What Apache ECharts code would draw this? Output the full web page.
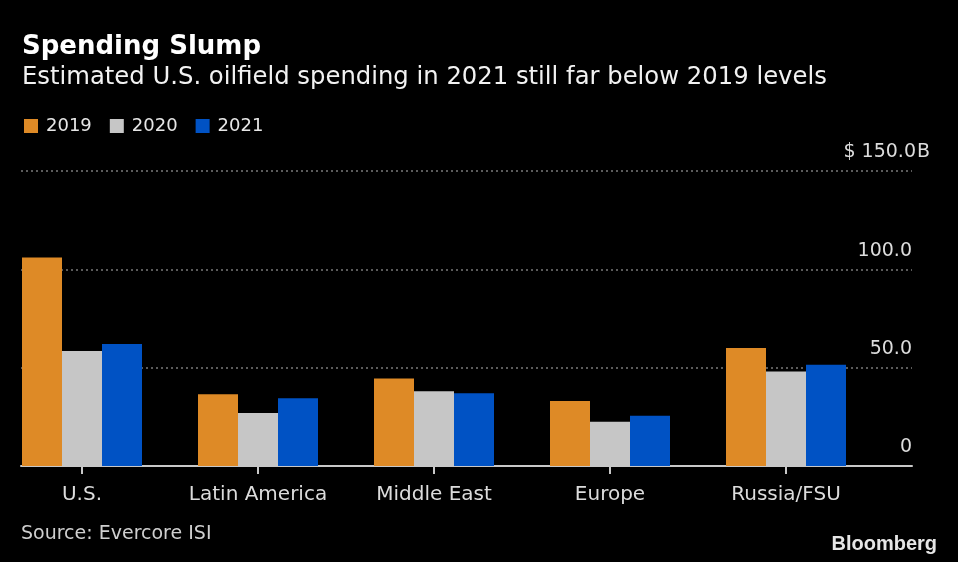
<!DOCTYPE html>
<html>
<head>
<meta charset="utf-8">
<script src="https://cdn.jsdelivr.net/npm/echarts@6/dist/echarts.min.js"></script>
<style>
html,body{margin:0;padding:0;background:#000;}
#c{width:958px;height:562px;}
</style>
</head>
<body>
<div id="c"></div>
<script>
const categories = ['U.S.', 'Latin America', 'Middle East', 'Europe', 'Russia/FSU'];
const seriesNames = ['2019', '2020', '2021'];
const values2019 = [106, 36.5, 44.5, 33, 60];
const values2020 = [58.5, 27, 38, 22.5, 48];
const values2021 = [62, 34.5, 37, 25.5, 51.5];
const yTicks = [0, 50, 100, 150];
const colors = ['#DE8A26', '#C6C6C6', '#0052C4'];

const FONT = 'DejaVu Sans';
const chart = echarts.init(document.getElementById('c'), null, {renderer: 'canvas'});

function yLabel(v) {
  if (v === 150) return '$ 150.0{b|B}';
  if (v === 0) return '0{h|B}';
  return v.toFixed(1) + '{h|B}';
}

const option = {
  backgroundColor: '#000',
  animation: false,
  textStyle: {fontFamily: FONT},
  title: [
    {text: 'Spending Slump', left: 17, top: 29,
     textStyle: {color: '#fff', fontSize: 26, fontWeight: 'bold', fontFamily: FONT}},
    {text: 'Estimated U.S. oilfield spending in 2021 still far below 2019 levels', left: 17, top: 61,
     textStyle: {color: '#f2f2f2', fontSize: 24.3, fontWeight: 'normal', fontFamily: FONT}},
    {text: 'Source: Evercore ISI', left: 16, top: 520,
     textStyle: {color: '#cfcfcf', fontSize: 19, fontWeight: 'normal', fontFamily: FONT}},
    {text: 'Bloomberg', right: 16, top: 529,
     textStyle: {color: '#e6e6e6', fontSize: 20, fontWeight: 'bold', fontFamily: 'Liberation Sans Narrow, Liberation Sans'}}
  ],
  legend: {
    left: 19, top: 112,
    icon: 'rect', itemWidth: 14, itemHeight: 14, itemGap: 18,
    textStyle: {color: '#e6e6e6', fontSize: 18, fontFamily: FONT, padding: [0, 0, 0, 3]},
    data: seriesNames
  },
  grid: [
    {left: 21, right: 46, top: 171, bottom: 96, outerBoundsMode: 'none'},
    {left: -6, right: 84, top: 171, bottom: 96, outerBoundsMode: 'none'}
  ],
  xAxis: [
    {type: 'value', gridIndex: 0, min: 0, max: 1,
     axisLine: {show: true, lineStyle: {color: '#c8c8c8', width: 2}},
     axisTick: {show: false}, axisLabel: {show: false}, splitLine: {show: false}},
    {type: 'category', gridIndex: 1, data: categories,
     axisLine: {show: false},
     axisTick: {show: true, alignWithLabel: true, interval: 0, length: 8, lineStyle: {color: '#c8c8c8', width: 2}},
     axisLabel: {color: '#dcdcdc', fontSize: 20, margin: 19, interval: 0, hideOverlap: false, fontFamily: FONT}}
  ],
  yAxis: [
    {type: 'value', gridIndex: 0, position: 'right', min: 0, max: 150, interval: 50,
     axisLine: {show: false}, axisTick: {show: false},
     splitLine: {show: true, lineStyle: {color: '#7a7a7a', type: [2, 3], width: 1.5}},
     axisLabel: {show: true, inside: false, align: 'right', margin: 18, verticalAlign: 'bottom',
       padding: [0, 0, 9, 0], color: '#dcdcdc', fontSize: 19, fontFamily: FONT,
       formatter: yLabel,
       rich: {
         h: {color: 'transparent', fontSize: 19, width: 18, fontFamily: FONT},
         b: {color: '#dcdcdc', fontSize: 19, width: 14, align: 'right', fontFamily: FONT}
       }},
     data: yTicks},
    {type: 'value', gridIndex: 1, min: 0, max: 150, interval: 50, show: false}
  ],
  series: [
    {name: seriesNames[0], type: 'bar', xAxisIndex: 1, yAxisIndex: 1, data: values2019,
     barWidth: 40, barGap: '0%', itemStyle: {color: colors[0]}},
    {name: seriesNames[1], type: 'bar', xAxisIndex: 1, yAxisIndex: 1, data: values2020,
     barWidth: 40, barGap: '0%', itemStyle: {color: colors[1]}},
    {name: seriesNames[2], type: 'bar', xAxisIndex: 1, yAxisIndex: 1, data: values2021,
     barWidth: 40, barGap: '0%', itemStyle: {color: colors[2]}}
  ]
};
chart.setOption(option);
</script>
</body>
</html>
